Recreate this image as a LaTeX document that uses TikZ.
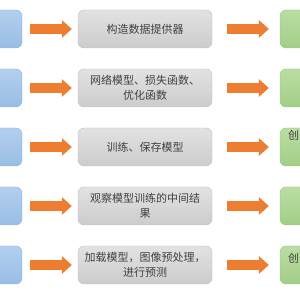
\documentclass[tikz,border=0pt]{standalone}
\usepackage{fontspec}
\newfontfamily\cjk{Noto Sans CJK SC}
\usetikzlibrary{arrows.meta}
\definecolor{bluetop}{HTML}{B3CFEE}
\definecolor{bluebot}{HTML}{98BDE5}
\definecolor{blueline}{HTML}{8EB4E0}
\definecolor{graytop}{HTML}{E2E2E2}
\definecolor{graybot}{HTML}{CCCCCC}
\definecolor{grayline}{HTML}{BEBEBE}
\definecolor{greentop}{HTML}{BADDA3}
\definecolor{greenbot}{HTML}{A2CE87}
\definecolor{greenline}{HTML}{93C47B}
\definecolor{arrowc}{HTML}{ED7D31}
\definecolor{txt}{HTML}{404040}

\begin{document}
\begin{tikzpicture}[x=1pt, y=1pt, font=\cjk\fontsize{11}{15}\selectfont,
		box/.style={rounded corners=6pt, minimum height=38pt, inner sep=0pt, align=center, text=txt},
		bluebox/.style={box, draw=blueline, top color=bluetop, bottom color=bluebot, minimum width=50pt},
		graybox/.style={box, draw=grayline, top color=graytop, bottom color=graybot, minimum width=134pt},
		greenbox/.style={box, draw=greenline, top color=greentop, bottom color=greenbot, minimum width=60pt},
		fat/.style={draw=arrowc, line width=10pt, -{Triangle[length=10pt, width=18pt, line width=0pt]}}]
		\useasboundingbox (0,0) rectangle (300,300);
		\clip (0,0) rectangle (300,300);
		\def\dy{59}
		% five rows: step -> task -> api
		\foreach \i/\txt in {1/{构造数据提供器},
			2/{网络模型、损失函数、\\优化函数},
			3/{训练、保存模型},
			4/{观察模型训练的中间结\\果},
			5/{加载模型，图像预处理，\\进行预测}} {
			\pgfmathsetmacro{\y}{271-(\i-1)*\dy}
			\node[bluebox] (b\i) at (-3,\y) {};
			\node[graybox] (m\i) at (145,\y) {\txt};
			\node[greenbox] (g\i) at (310,\y) {};
			\draw[fat, shorten <=8pt, shorten >=6pt] (b\i) -- (m\i);
			\draw[fat, shorten <=15pt, shorten >=11pt] (m\i) -- (g\i);
		}
		% visible start of the green texts
		\node[anchor=west, inner sep=0pt, text=txt] (c3) at ([xshift=8pt, yshift=12pt]g3.west) {创};
		\node[anchor=west, inner sep=0pt, text=txt] (c5) at ([xshift=8pt, yshift=7pt]g5.west) {创};
	\end{tikzpicture}
\end{document}
